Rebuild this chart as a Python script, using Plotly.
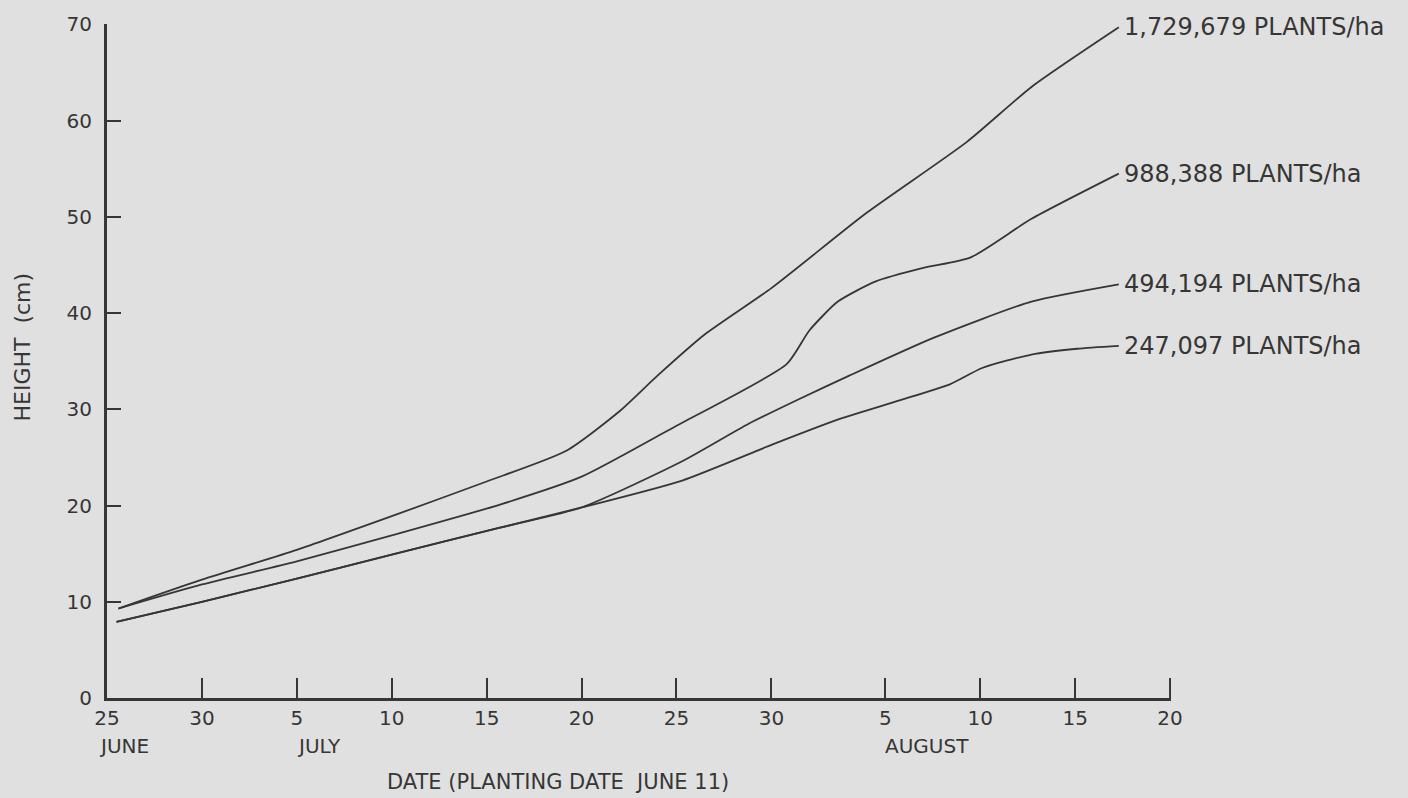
import plotly.graph_objects as go

# Days counted from 25 June; plant height in cm
tick_days = [0, 5, 10, 15, 20, 25, 30, 35, 41, 46, 51, 56]
tick_text = ["25", "30", "5", "10", "15", "20", "25", "30", "5", "10", "15", "20"]
month_names = ["JUNE", "JULY", "AUGUST"]
month_days = [0, 10, 41]

density_labels = [
    "1,729,679 PLANTS/ha",
    "988,388 PLANTS/ha",
    "494,194 PLANTS/ha",
    "247,097 PLANTS/ha",
]

days_1729679 = [0.6, 5, 10, 15, 20, 24.2, 27, 29, 31.5, 35, 40, 45.3, 48.7, 53.3]
height_1729679 = [9.3, 12.3, 15.4, 18.9, 22.5, 25.7, 29.8, 33.5, 37.8, 42.6, 50.4, 57.8, 63.5, 69.7]

days_988388 = [0.6, 5, 10, 15, 20.7, 25, 30, 35.8, 37, 38.5, 40.5, 43, 45.5, 48.7, 53.3]
height_988388 = [9.3, 11.8, 14.2, 16.9, 20.1, 23.0, 28.3, 34.7, 38.2, 41.2, 43.3, 44.7, 45.8, 49.8, 54.5]

days_494194 = [0.5, 5, 10, 15, 20.7, 25, 30.3, 33.8, 36.5, 39.1, 43.5, 48.7, 53.3]
height_494194 = [7.9, 10.0, 12.4, 14.9, 17.7, 19.8, 24.6, 28.5, 31.1, 33.5, 37.4, 41.2, 43.0]

days_247097 = [0.5, 5, 10, 15, 20.7, 25, 30.3, 35, 38.6, 41.7, 44.4, 46.1, 48.7, 51.1, 53.3]
height_247097 = [7.9, 10.0, 12.4, 14.9, 17.7, 19.8, 22.6, 26.3, 29.0, 30.9, 32.6, 34.3, 35.7, 36.3, 36.6]

series = [
    (days_1729679, height_1729679),
    (days_988388, height_988388),
    (days_494194, height_494194),
    (days_247097, height_247097),
]

INK = "#363636"
BG = "#e0e0e0"
FONT = "DejaVu Sans"
X_END = tick_days[-1]

fig = go.Figure()
for (xs, ys), name in zip(series, density_labels):
    fig.add_trace(go.Scatter(
        x=xs, y=ys, mode="lines", name=name,
        line=dict(color=INK, width=1.8, shape="spline", smoothing=0.6),
        hoverinfo="skip",
    ))
    fig.add_annotation(
        x=xs[-1], y=ys[-1], xref="x", yref="y",
        text=name, showarrow=False, xanchor="left", yanchor="middle",
        xshift=3, font=dict(family=FONT, size=24, color=INK),
    )

for name, d in zip(month_names, month_days):
    fig.add_annotation(
        x=d, y=0, xref="x", yref="paper", text=name, showarrow=False,
        xanchor="left", yanchor="middle", yshift=-48,
        xshift=-10 if d == 0 else -2,
        font=dict(family=FONT, size=20, color=INK),
    )

fig.add_annotation(
    x=0.424, y=0, xref="paper", yref="paper",
    text="DATE (PLANTING DATE  JUNE 11)", showarrow=False,
    xanchor="center", yanchor="middle", yshift=-84,
    font=dict(family=FONT, size=21, color=INK),
)
fig.add_annotation(
    x=0, y=0.52, xref="paper", yref="paper",
    text="HEIGHT  (cm)", showarrow=False, textangle=-90,
    xanchor="center", yanchor="middle", xshift=-84,
    font=dict(family=FONT, size=22, color=INK),
)

# closing tick at the far end of the date axis
fig.add_shape(
    type="line", xref="x", yref="y", ysizemode="pixel", yanchor=0,
    x0=X_END, x1=X_END, y0=0, y1=20,
    line=dict(color=INK, width=2),
)

fig.update_xaxes(
    range=[0, 56.05], tickvals=tick_days, ticktext=tick_text,
    ticks="inside", ticklen=20, tickwidth=2, tickcolor=INK,
    showline=True, linewidth=3, linecolor=INK, mirror=False,
    showgrid=False, zeroline=False,
    tickfont=dict(family=FONT, size=20, color=INK),
)
fig.update_yaxes(
    range=[0, 70.05], tickvals=[0, 10, 20, 30, 40, 50, 60, 70],
    ticks="inside", ticklen=14, tickwidth=2, tickcolor=INK,
    showline=True, linewidth=3, linecolor=INK, mirror=False,
    showgrid=False, zeroline=False, ticklabelstandoff=8,
    tickfont=dict(family=FONT, size=20, color=INK),
)

fig.update_layout(
    width=1408, height=798,
    margin=dict(l=107, r=237, t=22, b=100),
    paper_bgcolor=BG, plot_bgcolor=BG,
    showlegend=False,
)

fig.write_html("out.html")
